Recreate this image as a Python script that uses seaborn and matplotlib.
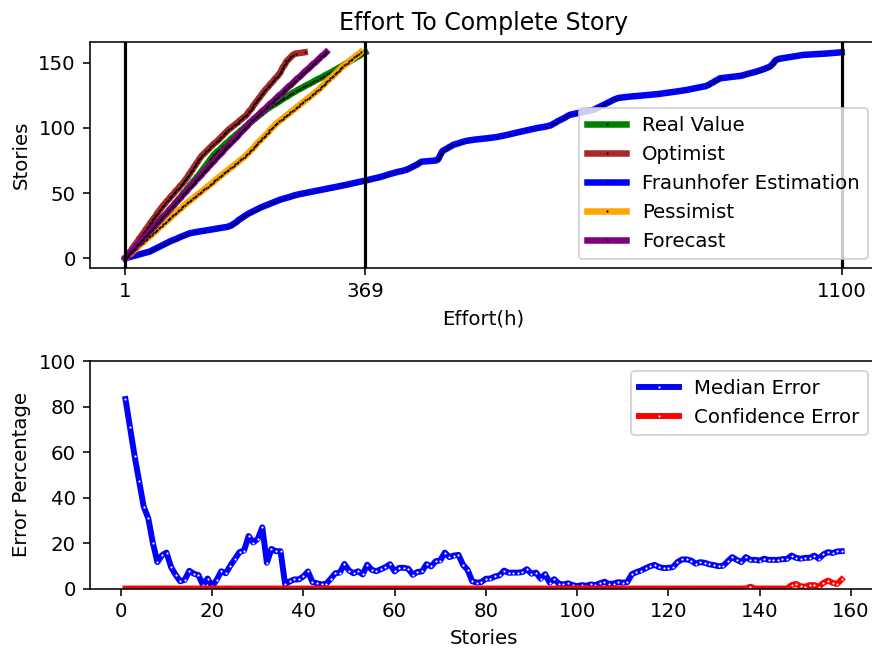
import matplotlib
matplotlib.use("Agg")
import matplotlib.pyplot as plt
import seaborn as sns
import numpy as np

# ---------------- data: top chart (effort in hours for story 0..158) ----------------
stories = list(range(159))

real_value = [1,3,5,7,9,10,12,14,16,18,20,22,24,26,27,29,31,33,35,37,39,41,43,45,46,48,50,52,54,
              56,57,59,61,62,64,66,67,69,71,72,74,76,77,79,81,82,84,86,87,89,90,92,94,95,97,99,100,102,104,105,107,109,110,112,114,115,
              117,118,120,121,123,124,126,127,129,130,132,133,135,136,138,
              140,142,145,147,149,151,153,155,158,160,162,
              164,167,169,171,174,176,178,181,183,185,188,190,192,
              195,197,200,202,205,207,210,212,215,217,220,
              223,226,230,233,236,239,242,245,249,252,255,258,
              262,265,269,273,276,280,284,288,291,295,299,303,306,310,314,318,
              321,325,328,332,335,338,342,345,348,352,355,359,362,365,369]

optimist = [1,2,4,5,7,8,10,11,12,14,15,17,18,20,21,22,24,25,27,28,30,31,32,34,35,37,38,39,41,42,44,45,47,48,49,51,52,54,55,57,58,
            60,62,63,65,67,69,70,72,74,76,77,79,81,83,84,86,88,90,91,93,
            94,96,97,98,100,101,102,104,105,106,108,109,110,112,113,114,116,117,
            119,121,123,125,127,129,131,133,135,137,140,142,144,146,148,150,152,154,156,158,
            160,163,165,168,170,173,175,177,180,182,185,187,
            188,190,191,193,195,196,197,199,200,202,203,205,206,208,209,211,212,
            214,215,217,219,221,222,224,226,228,229,231,233,235,236,238,
            239,240,241,242,243,245,246,247,248,
            250,252,254,256,258,262,276]

fraunhofer = [1,8,16,23,30,38,42,46,50,54,58,62,66,70,75,80,84,89,94,99,
              109,121,133,145,157,163,166,169,172,174,
              177,180,183,186,189,193,197,201,205,209,
              214,219,224,229,234,239,246,253,259,267,
              277,287,297,307,317,327,337,346,355,364,
              373,381,390,397,403,410,417,426,433,437,
              441,445,449,452,455,478,481,482,483,484,
              485,486,487,490,494,497,501,504,511,517,
              524,537,556,571,581,590,598,607,616,625,
              634,646,654,657,661,664,668,672,676,679,
              683,692,702,711,720,724,728,732,736,740,
              744,748,752,758,775,798,819,834,848,861,
              871,881,891,896,899,903,906,910,913,929,
              946,953,960,968,974,980,985,990,992,994,
              996,997,999,1004,1016,1029,1041,1075,1100]

pessimist = [1,3,5,8,10,12,14,17,19,21,23,25,28,30,32,34,37,39,41,43,46,48,50,52,54,57,59,61,63,66,68,70,72,74,77,79,81,83,86,88,90,
             92,95,97,100,102,105,107,110,112,115,117,120,122,125,127,130,132,135,137,139,142,144,147,149,152,154,157,159,162,164,167,169,172,174,177,179,182,184,
             186,188,190,192,194,196,198,200,201,203,205,207,209,211,213,215,217,219,221,222,224,226,228,230,232,234,
             237,239,242,244,247,249,252,254,257,259,262,264,267,269,272,274,277,279,282,284,287,289,292,294,297,
             299,301,303,305,307,309,311,313,315,318,320,322,324,326,328,330,332,334,
             337,339,342,344,347,349,352,354,357,360,362]

forecast = [1,3,5,6,8,10,12,14,16,17,19,21,23,25,26,28,30,32,34,36,37,39,41,43,45,47,48,50,52,54,
            56,57,59,61,63,65,67,68,70,72,74,76,77,79,81,83,85,87,88,90,92,94,96,97,99,101,103,105,107,108,
            110,112,114,116,118,119,121,123,125,127,128,130,132,134,136,138,139,141,143,
            145,147,149,151,152,154,156,158,160,162,164,166,168,170,172,174,175,177,179,181,183,185,187,189,190,192,
            194,196,198,201,203,205,207,209,211,214,216,218,220,222,224,227,229,231,233,235,237,240,242,244,246,
            248,250,252,255,257,259,261,263,265,268,270,272,274,276,278,281,283,285,287,289,292,294,296,298,300,302,305,307,309]

series_names = ["Real Value", "Optimist", "Fraunhofer Estimation", "Pessimist", "Forecast"]
series_colors = ["green", "brown", "blue", "orange", "purple"]
series_values = [real_value, optimist, fraunhofer, pessimist, forecast]
effort_marks = [1, 369, 1100]

# ---------------- data: bottom chart (error percentage per story 1..158) ----------------
error_stories = list(range(1, 159))
median_error = [83.3,70.8,58.3,47.1,36.0,30.9,20.1,11.6,14.6,15.8,
                9.4,6.0,3.2,3.8,7.8,6.5,5.9,1.5,4.4,1.0,
                3.8,7.6,6.7,10.1,13.0,16.0,16.7,23.1,20.2,21.8,
                26.9,11.3,17.4,16.4,16.4,1.8,3.1,4.0,4.0,5.3,
                7.5,2.8,2.3,1.8,2.1,4.3,6.7,7.0,10.8,7.9,
                6.7,7.6,6.2,10.5,8.2,7.6,8.5,9.4,10.7,7.5,
                9.1,9.1,8.7,6.0,7.3,7.5,10.7,9.7,12.0,12.3,
                15.8,13.8,14.5,14.8,10.4,8.2,3.2,2.6,2.8,4.3,
                4.4,5.3,5.8,7.9,6.9,7.0,7.0,7.2,8.5,6.5,
                7.0,4.3,6.3,2.6,4.1,2.1,1.8,2.3,1.5,1.0,
                1.5,1.2,1.8,1.5,2.3,3.0,2.0,2.2,2.8,2.6,
                2.8,6.3,7.2,7.9,8.9,9.8,10.4,9.4,9.0,9.1,
                9.4,11.6,12.8,12.8,12.3,10.9,11.6,11.3,10.6,10.3,
                9.8,10.0,11.9,13.8,12.6,11.6,13.8,12.6,12.6,12.3,
                13.1,12.6,12.6,12.6,12.9,13.0,14.5,13.5,13.1,13.5,
                13.5,14.5,13.1,15.0,16.0,15.6,16.3,16.4]
confidence_error = ([0.0] * 137 + [0.8] + [0.0] * 8 +
                    [1.5,2.0,1.0,0.8,1.5,1.5,0.8,2.5,3.5,2.5,2.0,4.0])

# ---------------- figure ----------------
DPI = 142
fig = plt.figure(figsize=(872 / DPI, 648 / DPI), dpi=DPI)
ax1 = fig.add_axes([0.1028, 0.5857, 0.9035, 0.3495])
ax2 = fig.add_axes([0.1028, 0.0918, 0.9035, 0.3510])

for name, vals, col in zip(series_names, series_values, series_colors):
    sns.lineplot(x=vals, y=stories, ax=ax1, color=col, linewidth=3.3,
                 marker="o", markersize=1.1, markeredgewidth=0,
                 markerfacecolor="black", label=name, estimator=None,
                 sort=False, legend=False)
for xm in effort_marks:
    ax1.axvline(xm, color="black", linewidth=1.6)
ax1.set_xticks(effort_marks)
ax1.set_xlabel("Effort(h)")
ax1.set_ylabel("Stories")
ax1.set_title("Effort To Complete Story")
ax1.legend(loc="lower right")

sns.lineplot(x=error_stories, y=median_error, ax=ax2, color="blue", linewidth=3.0,
             marker="o", markersize=1.1, markeredgewidth=0,
             markerfacecolor="white", label="Median Error", estimator=None,
             sort=False, legend=False)
sns.lineplot(x=error_stories, y=confidence_error, ax=ax2, color="red", linewidth=3.0,
             marker="o", markersize=1.1, markeredgewidth=0,
             markerfacecolor="white", label="Confidence Error", estimator=None,
             sort=False, legend=False)
ax2.set_ylim(0, 100)
ax2.set_xlabel("Stories")
ax2.set_ylabel("Error Percentage")
ax2.legend(loc="upper right")

fig.savefig("out.png", dpi=DPI)
